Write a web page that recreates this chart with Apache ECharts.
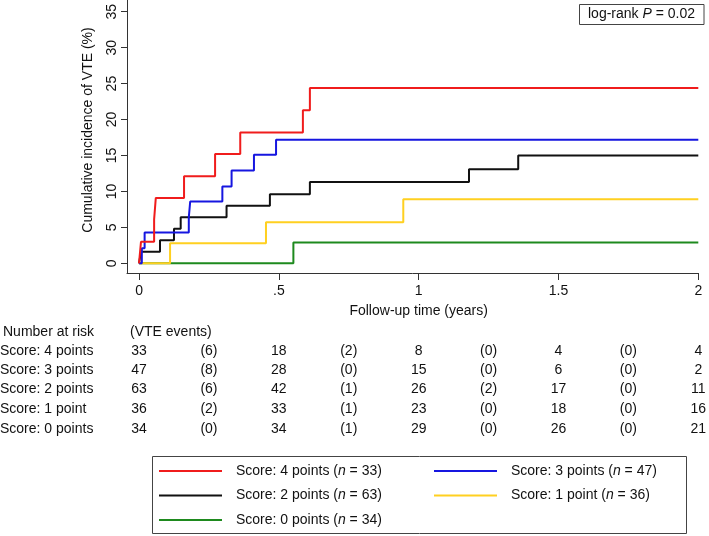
<!DOCTYPE html>
<html><head><meta charset="utf-8">
<script src="https://cdn.jsdelivr.net/npm/echarts@6/dist/echarts.min.js"></script>
<style>html,body{margin:0;padding:0;background:#fff}#c{width:709px;height:536px}</style>
</head><body><div id="c"></div>
<script>
// ---- data ----
const groupNames = ['Score: 4 points', 'Score: 3 points', 'Score: 2 points', 'Score: 1 point', 'Score: 0 points'];
const groupN = [33, 47, 63, 36, 34];
const groupColors = ['#f01c1c', '#1616e0', '#111111', '#ffd020', '#1e8a1e'];

// step-curve event times (years) and cumulative incidence (%)
const t4 = [0, 0.007, 0.054, 0.060, 0.161, 0.272, 0.362, 0.586, 0.611, 2];
const v4 = [0, 3.0, 6.1, 9.1, 12.1, 15.2, 18.2, 21.3, 24.4, 24.4];
const t3 = [0, 0.010, 0.020, 0.178, 0.183, 0.298, 0.331, 0.411, 0.490, 2];
const v3 = [0, 2.1, 4.3, 6.4, 8.6, 10.7, 12.9, 15.1, 17.2, 17.2];
const t2 = [0, 0.007, 0.075, 0.125, 0.149, 0.313, 0.468, 0.611, 1.180, 1.356, 2];
const v2 = [0, 1.6, 3.2, 4.8, 6.4, 8.0, 9.6, 11.3, 13.1, 15.0, 15.0];
const t1 = [0, 0.111, 0.454, 0.945, 2];
const v1 = [0, 2.8, 5.7, 8.9, 8.9];
const t0 = [0, 0.552, 2];
const v0 = [0, 2.9, 2.9];

// risk table
const riskTimes = [0, 0.5, 1, 1.5, 2];
const eventTimes = [0.25, 0.75, 1.25, 1.75];
const atRisk4 = [33, 18, 8, 4, 4];
const events4 = [6, 2, 0, 0];
const atRisk3 = [47, 28, 15, 6, 2];
const events3 = [8, 0, 0, 0];
const atRisk2 = [63, 42, 26, 17, 11];
const events2 = [6, 1, 2, 0];
const atRisk1 = [36, 33, 23, 18, 16];
const events1 = [2, 1, 0, 0];
const atRisk0 = [34, 34, 29, 26, 21];
const events0 = [0, 1, 0, 0];

const xTicks = [0, 0.5, 1, 1.5, 2];
const yTicks = [0, 5, 10, 15, 20, 25, 30, 35];
const pValueText = '0.02';

// ---- build ----
const FONT = '"Liberation Sans", Arial, Helvetica, sans-serif';
const AX = '#333';
const curves = [[t4, v4], [t3, v3], [t2, v2], [t1, v1], [t0, v0]];
const atRisk = [atRisk4, atRisk3, atRisk2, atRisk1, atRisk0];
const events = [events4, events3, events2, events1, events0];
const drawOrder = [4, 2, 3, 1, 0];

const chart = echarts.init(document.getElementById('c'), null, {renderer: 'canvas'});

const series = drawOrder.map(g => ({
  name: groupNames[g],
  type: 'line',
  step: 'end',
  symbol: 'none',
  animation: false,
  data: curves[g][0].map((t, i) => [t, curves[g][1][i]]),
  lineStyle: {color: groupColors[g], width: 2},
  itemStyle: {color: groupColors[g]}
}));

const legendFmt = name => {
  const n = groupN[groupNames.indexOf(name)];
  return '{t|' + name + ' (}{i|n}{t| = ' + n + ')}';
};
const legendText = {
  padding: [0, 0, 0, 9],
  rich: {
    t: {fontFamily: FONT, fontSize: 14, color: '#111'},
    i: {fontFamily: FONT, fontSize: 14, color: '#111', fontStyle: 'italic'}
  }
};
const legendBase = {
  show: true, orient: 'vertical', selectedMode: false, padding: 0,
  itemWidth: 63, itemHeight: 14, itemGap: 10.5,
  itemStyle: {opacity: 0},
  lineStyle: {width: 2},
  formatter: legendFmt, textStyle: legendText
};

chart.setOption({
  animation: false,
  grid: {left: 127, right: 10.7, top: 0, bottom: 263},
  xAxis: {
    type: 'value', min: -0.043, max: 2,
    axisLine: {show: true, onZero: false, lineStyle: {color: AX, width: 1}},
    axisTick: {show: true, length: 7, lineStyle: {color: AX}, customValues: xTicks},
    axisLabel: {customValues: xTicks, margin: 11, color: '#111', fontFamily: FONT, fontSize: 14,
      formatter: v => (v === 0.5 ? '.5' : String(v))},
    splitLine: {show: false}
  },
  yAxis: {
    type: 'value', min: -1.35, max: 36.63,
    axisLine: {show: true, onZero: false, lineStyle: {color: AX, width: 1}},
    axisTick: {show: true, length: 6, lineStyle: {color: AX}, customValues: yTicks},
    axisLabel: {customValues: yTicks, rotate: 90, margin: 8, color: '#111', fontFamily: FONT, fontSize: 14},
    splitLine: {show: false}
  },
  legend: [
    Object.assign({}, legendBase, {left: 158, top: 464, data: [groupNames[0], groupNames[2], groupNames[4]]}),
    Object.assign({}, legendBase, {left: 433, top: 464, data: [groupNames[1], groupNames[3]]})
  ],
  series: series
});

// ---- texts: axis titles, risk table, legend box, p-value box ----
const px = t => chart.convertToPixel({xAxisIndex: 0}, t);
const txt = (x, y, s, align, extra) => Object.assign({
  type: 'text', x: x, y: y, silent: true,
  style: {text: s, fill: '#111', font: '14px ' + FONT, align: align || 'center', verticalAlign: 'middle'}
}, extra || {});

const g = [];
g.push(txt(88, 130, 'Cumulative incidence of VTE (%)', 'center', {rotation: Math.PI / 2}));
g.push(txt(px(1), 311, 'Follow-up time (years)'));
g.push(txt(3, 331.7, 'Number at risk', 'left'));
g.push(txt(px(0) - 9, 331.7, '(VTE events)', 'left'));
const rowY = [350.7, 370, 389.3, 409, 428.7];
groupNames.forEach((name, gi) => {
  g.push(txt(0, rowY[gi], name, 'left'));
  riskTimes.forEach((t, k) => g.push(txt(px(t), rowY[gi], String(atRisk[gi][k]))));
  eventTimes.forEach((t, k) => g.push(txt(px(t), rowY[gi], '(' + events[gi][k] + ')')));
});
g.push({type: 'rect', silent: true, z: -1, shape: {x: 152.5, y: 456.5, width: 534, height: 77},
  style: {fill: 'rgba(0,0,0,0)', stroke: '#444', lineWidth: 1}});
g.push({type: 'rect', silent: true, shape: {x: 579.5, y: 4.5, width: 124.5, height: 20},
  style: {fill: '#fff', stroke: '#444', lineWidth: 1}});
g.push({type: 'text', x: 641.5, y: 14.5, silent: true,
  style: {text: '{a|log-rank }{b|P}{a| = ' + pValueText + '}', align: 'center', verticalAlign: 'middle',
    rich: {a: {font: '14px ' + FONT, fill: '#111'}, b: {font: 'italic 14px ' + FONT, fill: '#111'}}}});

chart.setOption({graphic: {elements: g}});
</script>
</body></html>
